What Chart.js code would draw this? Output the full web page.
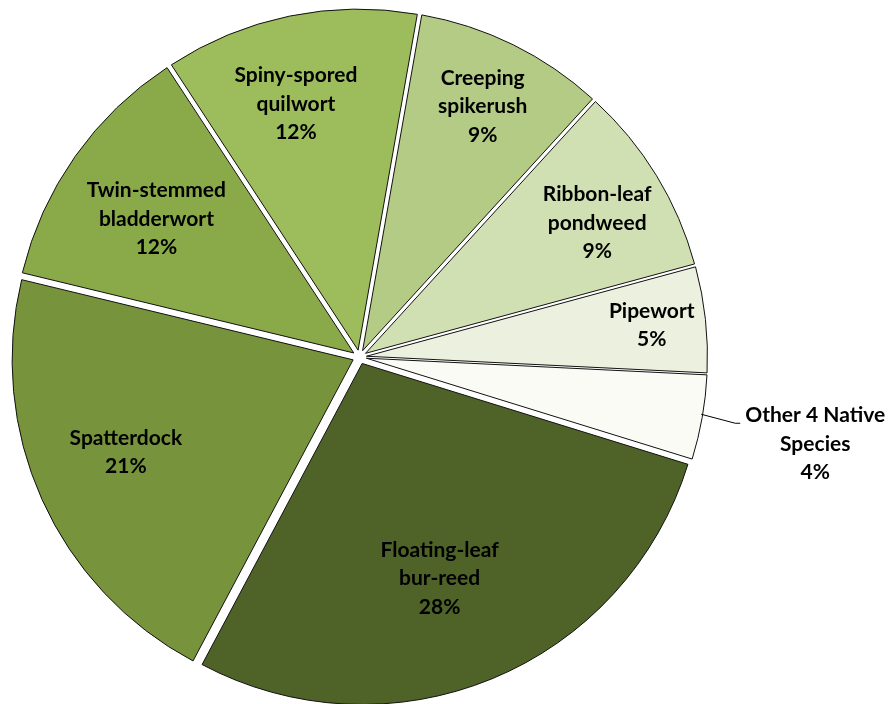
<!DOCTYPE html>
<html>
<head>
<meta charset="utf-8">
<script src="https://cdn.jsdelivr.net/npm/chart.js@4.4.1/dist/chart.umd.min.js"></script>
<style>
  html, body { margin: 0; padding: 0; background: #ffffff; }
  #wrap { width: 890px; height: 704px; }
</style>
</head>
<body>
<div id="wrap"><canvas id="speciesPie"></canvas></div>
<script>
// Species names (one entry per label line) and their share of the total, clockwise from the top
const speciesNames = [
    ['Creeping', 'spikerush'],
    ['Ribbon-leaf', 'pondweed'],
    ['Pipewort'],
    ['Other 4 Native', 'Species'],
    ['Floating-leaf', 'bur-reed'],
    ['Spatterdock'],
    ['Twin-stemmed', 'bladderwort'],
    ['Spiny-spored', 'quilwort']
];
const speciesShare = [9, 9, 5, 4, 28, 21, 12, 12];

const sliceColors = ['#b3cb84', '#d1e0b3', '#ebf1de', '#f9fbf4', '#4f6228', '#77933c', '#8aaa4a', '#9dbd5c'];

// label placement: fraction of the radius and a small angle nudge (degrees)
const labelRadius = [0.818, 0.80, 0.862, 0, 0.69, 0.74, 0.72, 0.765];
const labelNudge = [0, 2, 0, 0, 2.5, 2, -1, -2.5];
const outsideLabel = 3;

const EXPLODE = 7;
const LINE_H = 28.5;

// every slice is pulled out a few pixels along its own middle angle
const explodePlugin = {
    id: 'explode',
    beforeDatasetDraw(chart, args) {
        const ctx = chart.ctx;
        args.meta.data.forEach(arc => {
            const mid = (arc.startAngle + arc.endAngle) / 2;
            ctx.save();
            ctx.translate(Math.cos(mid) * EXPLODE, Math.sin(mid) * EXPLODE);
            arc.draw(ctx);
            ctx.restore();
        });
        return false;
    }
};

const sliceLabels = {
    id: 'sliceLabels',
    afterDatasetsDraw(chart) {
        const ctx = chart.ctx;
        const arcs = chart.getDatasetMeta(0).data;
        ctx.save();
        ctx.font = 'bold 21px Lato';
        ctx.fillStyle = '#000000';
        ctx.textAlign = 'center';
        ctx.textBaseline = 'middle';

        arcs.forEach((arc, i) => {
            const lines = speciesNames[i].concat([speciesShare[i] + '%']);
            const mid = (arc.startAngle + arc.endAngle) / 2;
            let cx, cy;

            if (i === outsideLabel) {
                // leader line from the slice edge out to the label
                const r = arc.outerRadius + EXPLODE - 1;
                const sx = arc.x + Math.cos(mid) * r;
                const sy = arc.y + Math.sin(mid) * r;
                ctx.beginPath();
                ctx.strokeStyle = '#000000';
                ctx.lineWidth = 1;
                ctx.moveTo(sx, sy - 3);
                ctx.lineTo(sx + 34, sy + 6);
                ctx.lineTo(sx + 39, sy + 6);
                ctx.stroke();
                cx = sx + 114;
                cy = sy - 2 + LINE_H;
            } else {
                const a = mid + labelNudge[i] * Math.PI / 180;
                const r = arc.outerRadius * labelRadius[i];
                cx = arc.x + Math.cos(a) * r;
                cy = arc.y + Math.sin(a) * r;
            }

            const top = cy - (lines.length - 1) * LINE_H / 2;
            lines.forEach((txt, k) => ctx.fillText(txt, cx, top + k * LINE_H));
        });
        ctx.restore();
    }
};

const ctx = document.getElementById('speciesPie').getContext('2d');

const speciesPie = new Chart(ctx, {
    type: 'pie',
    data: {
        labels: speciesNames.map(n => n.join(' ')),
        datasets: [{
            data: speciesShare,
            backgroundColor: sliceColors,
            borderColor: '#111111',
            borderWidth: 1
        }]
    },
    options: {
        responsive: true,
        maintainAspectRatio: false,
        animation: false,
        rotation: 10,
        layout: {
            padding: { left: 18, right: 189, top: 15.5, bottom: 5.5 }
        },
        plugins: {
            legend: { display: false },
            tooltip: { enabled: false }
        }
    },
    plugins: [explodePlugin, sliceLabels]
});
</script>
</body>
</html>
